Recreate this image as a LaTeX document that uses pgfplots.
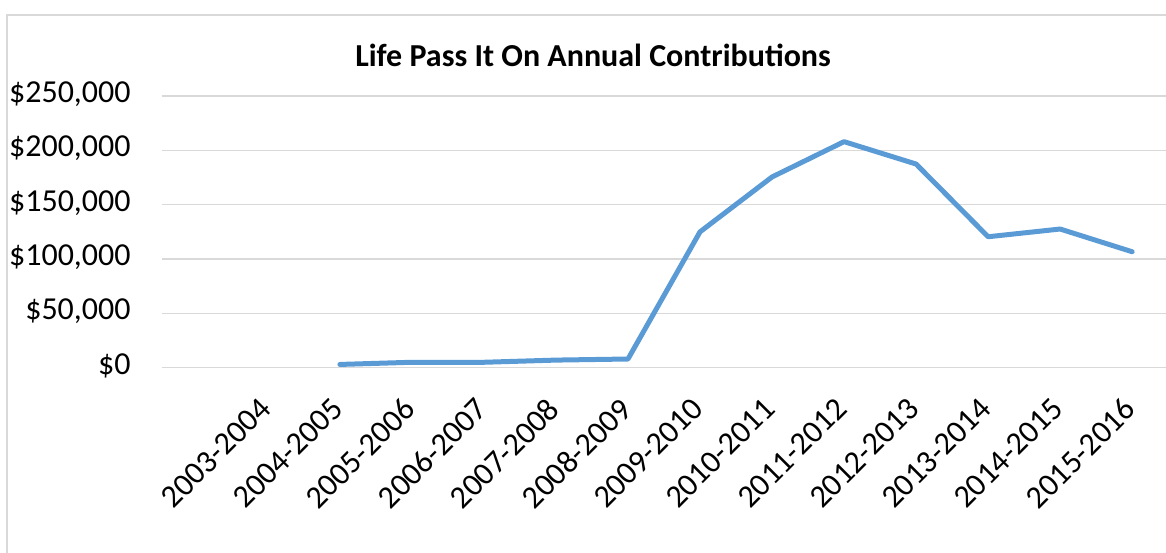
\documentclass[border=0pt]{standalone}
\usepackage{pgfplots}
\pgfplotsset{compat=1.18}
\usepackage{fontspec}
\setmainfont{Carlito}
\definecolor{lineblue}{HTML}{5B9BD5}
\definecolor{gridgray}{HTML}{D9D9D9}

\pgfplotstableread{
idx value
1 3000
2 5000
3 5000
4 7000
5 8000
6 125000
7 175500
8 208000
9 187400
10 120500
11 127600
12 106700
}\contrib

\begin{document}
\begin{tikzpicture}
\useasboundingbox (-81pt,-92.15pt) rectangle (502pt,183.85pt);
\begin{axis}[
  at={(0,0)}, anchor=south west,
  scale only axis,
  width=502pt, height=135.85pt,
  xmin=-1.47, xmax=12.47,
  ymin=0, ymax=250000,
  axis line style={draw=none},
  major tick length=0pt,
  scaled y ticks=false,
  xtick={0,...,12},
  xticklabels={2003-2004,2004-2005,2005-2006,2006-2007,2007-2008,2008-2009,2009-2010,2010-2011,2011-2012,2012-2013,2013-2014,2014-2015,2015-2016},
  ytick={0,50000,100000,150000,200000,250000},
  yticklabels={{\$0},{\$50,000},{\$100,000},{\$150,000},{\$200,000},{\$250,000}},
  ymajorgrids,
  grid style={gridgray, line width=0.6pt},
  yticklabel style={font=\fontsize{16}{19}\selectfont, anchor=base east, inner sep=0pt, xshift=-15.5pt, yshift=-0.32em},
  xticklabel style={font=\fontsize{16}{19}\selectfont, inner sep=0pt, yshift=-14pt, xshift=-5pt, rotate=45, anchor=north east},
  title={Life Pass It On Annual Contributions},
  title style={at={(axis description cs:0.4293,1.0626)}, anchor=base, inner sep=0pt, font=\bfseries\fontsize{16}{19}\selectfont},
  clip=false,
]
\addplot[lineblue, line width=2.5pt, line join=round, line cap=round] table[x=idx, y=value] {\contrib};
\end{axis}
\draw[gridgray, line width=0.6pt] (-77.5pt,-100pt) -- (-77.5pt,176.35pt) -- (510pt,176.35pt);
\end{tikzpicture}
\end{document}
